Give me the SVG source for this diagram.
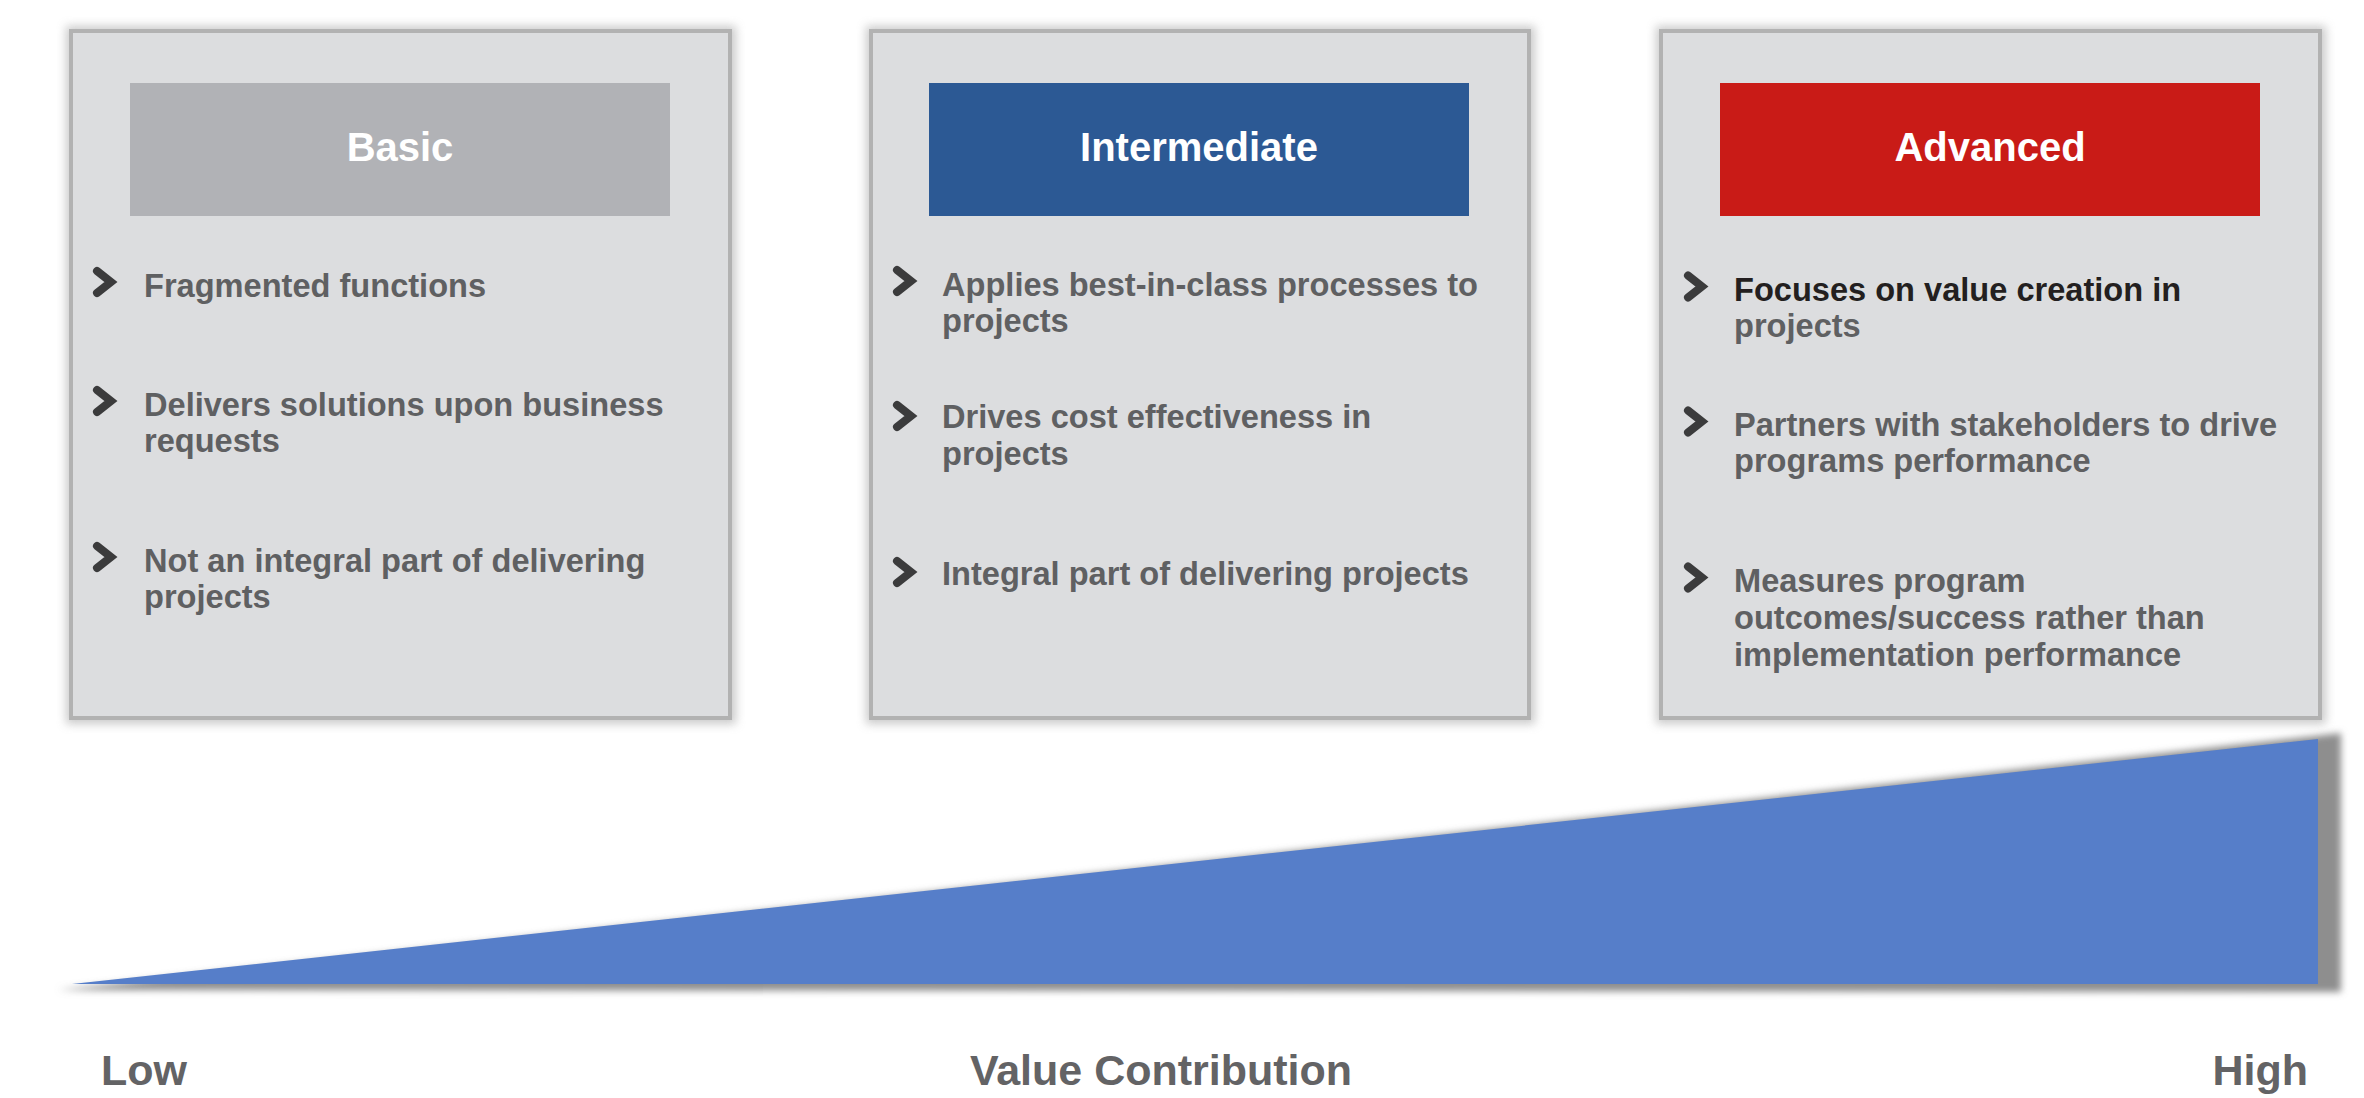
<svg xmlns="http://www.w3.org/2000/svg" width="2364" height="1098" viewBox="0 0 2364 1098">
  <defs>
    <filter id="boxShadow" x="-5%" y="-5%" width="110%" height="110%">
      <feGaussianBlur stdDeviation="5"/>
    </filter>
    <filter id="triShadow" x="-2%" y="-20%" width="104%" height="140%">
      <feGaussianBlur stdDeviation="3.5"/>
    </filter>
    <style>
      .panel { fill: #dcdddf; stroke: #b2b2b2; stroke-width: 4; }
      .pshadow { fill: #b8b8b8; opacity: 0.75; }
      .hdr { font-family: "Liberation Sans", Arial, Helvetica, sans-serif; font-weight: bold; font-size: 40px; fill: #ffffff; text-anchor: middle; }
      .txt { font-family: "Liberation Sans", Arial, Helvetica, sans-serif; font-weight: bold; font-size: 32.6px; fill: #5f6062; }
      .dark { fill: #231f20; }
      .chev { fill: none; stroke: #3b3b3c; stroke-width: 8; stroke-linecap: round; stroke-linejoin: miter; }
      .axis { font-family: "Liberation Sans", Arial, Helvetica, sans-serif; font-weight: bold; font-size: 43px; fill: #636365; }
    </style>
  </defs>
  <rect x="0" y="0" width="2364" height="1098" fill="#ffffff"/>

  <g id="value-wedge">
    <polygon points="58,990 2341,733 2341,992" fill="#8e8e8e" filter="url(#triShadow)"/>
    <polygon points="72,984 2318,739 2318,984" fill="#567ec9"/>
  </g>

  <g id="basic">
    <rect x="66" y="26" width="670" height="698" class="pshadow" filter="url(#boxShadow)"/>
    <rect x="71" y="31" width="659" height="687" class="panel"/>
    <rect x="130" y="83" width="540" height="133" fill="#b1b2b6"/>
    <text x="400" y="161" class="hdr">Basic</text>
    <polyline class="chev" points="97,271 111,282 97,293"/>
    <text x="144" y="297" class="txt">Fragmented functions</text>
    <polyline class="chev" points="97,390 111,401 97,412"/>
    <text class="txt"><tspan x="144" y="416">Delivers solutions upon business</tspan><tspan x="144" y="452">requests</tspan></text>
    <polyline class="chev" points="97,546 111,557 97,568"/>
    <text class="txt"><tspan x="144" y="572">Not an integral part of delivering</tspan><tspan x="144" y="608">projects</tspan></text>
  </g>

  <g id="intermediate">
    <rect x="866" y="26" width="669" height="698" class="pshadow" filter="url(#boxShadow)"/>
    <rect x="871" y="31" width="658" height="687" class="panel"/>
    <rect x="929" y="83" width="540" height="133" fill="#2c5994"/>
    <text x="1199" y="161" class="hdr">Intermediate</text>
    <polyline class="chev" points="897,270 911,281 897,292"/>
    <text class="txt"><tspan x="942" y="296">Applies best-in-class processes to</tspan><tspan x="942" y="332">projects</tspan></text>
    <polyline class="chev" points="897,405 911,416 897,427"/>
    <text class="txt"><tspan x="942" y="428">Drives cost effectiveness in</tspan><tspan x="942" y="465">projects</tspan></text>
    <polyline class="chev" points="897,561 911,572 897,583"/>
    <text x="942" y="585" class="txt">Integral part of delivering projects</text>
  </g>

  <g id="advanced">
    <rect x="1656" y="26" width="670" height="698" class="pshadow" filter="url(#boxShadow)"/>
    <rect x="1661" y="31" width="659" height="687" class="panel"/>
    <rect x="1720" y="83" width="540" height="133" fill="#c91b17"/>
    <text x="1990" y="161" class="hdr">Advanced</text>
    <polyline class="chev" points="1688,275.5 1702,286.5 1688,297.5"/>
    <text class="txt"><tspan x="1734" y="301" class="dark">Focuses on value creation in</tspan><tspan x="1734" y="337">projects</tspan></text>
    <polyline class="chev" points="1688,410.5 1702,421.5 1688,432.5"/>
    <text class="txt"><tspan x="1734" y="436">Partners with stakeholders to drive</tspan><tspan x="1734" y="472">programs performance</tspan></text>
    <polyline class="chev" points="1688,566.5 1702,577.5 1688,588.5"/>
    <text class="txt"><tspan x="1734" y="592">Measures program</tspan><tspan x="1734" y="629">outcomes/success rather than</tspan><tspan x="1734" y="666">implementation performance</tspan></text>
  </g>

  <g id="axis-labels">
    <text x="101" y="1085" class="axis">Low</text>
    <text x="1161" y="1085" class="axis" text-anchor="middle">Value Contribution</text>
    <text x="2308" y="1085" class="axis" text-anchor="end">High</text>
  </g>

  <g id="connectors"></g>
</svg>
